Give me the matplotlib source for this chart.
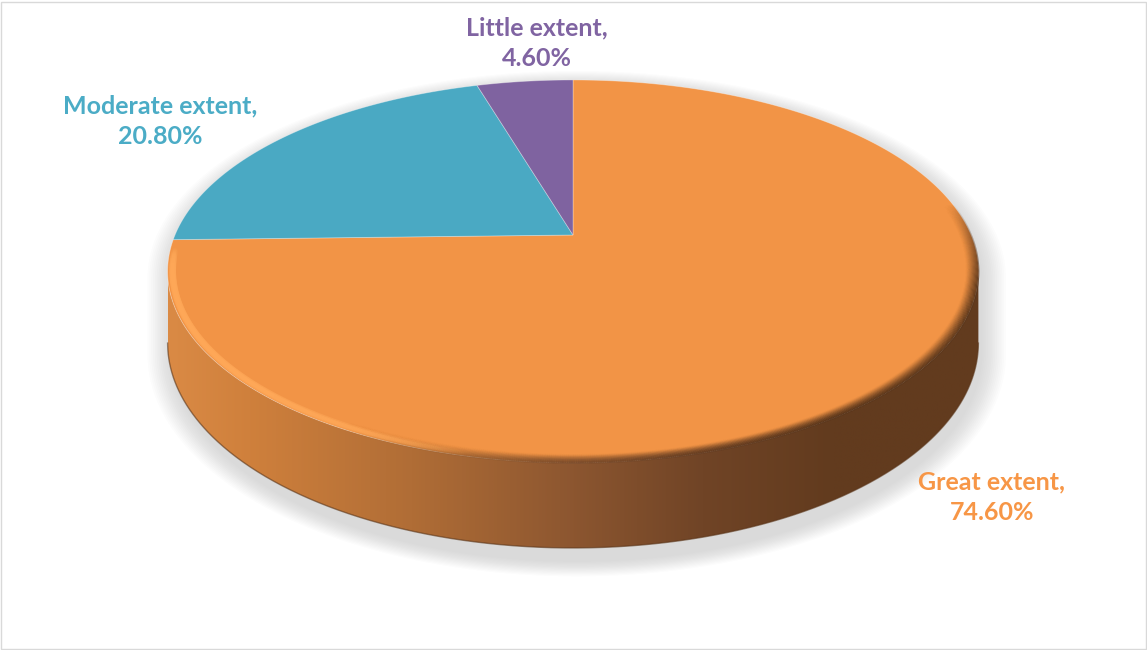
import numpy as np
import matplotlib
matplotlib.use("Agg")
import matplotlib.pyplot as plt
from matplotlib.patches import Polygon, Rectangle
from matplotlib.collections import LineCollection
from matplotlib.colors import LinearSegmentedColormap, to_rgb

# ---- data ----
categories = ["Great extent", "Moderate extent", "Little extent"]
shares = [74.60, 20.80, 4.60]
slice_colors = ["#F29446", "#4AA9C3", "#7F63A0"]
label_colors = ["#F79646", "#4BACC6", "#8064A2"]
label_pos = [(992, 497), (160, 121), (537, 43)]

# ---- geometry of the tilted disc (pixel space) ----
CX, CY = 573, 235      # centre of the disc's top face
RX, RY = 398, 184.5    # half-width / half-depth at the centre line
PERSP = 0.19           # perspective foreshortening
DEPTH = 69             # thickness of the disc

W, H = 1147, 650
fig = plt.figure(figsize=(W / 100, H / 100), dpi=100)
ax = fig.add_axes([0, 0, 1, 1])
ax.set_xlim(0, W)
ax.set_ylim(H, 0)
ax.axis("off")


def project(X, Z, drop=0.0):
    k = 1 + PERSP * Z
    return CX + RX * X / k, CY - RY * Z / k + drop / k


def ring(phi, r=1.0, drop=0.0):
    return project(r * np.sin(phi), r * np.cos(phi), drop)


phi = np.linspace(0, 2 * np.pi, 1441)
tx, ty = ring(phi)
bx, by = ring(phi, drop=DEPTH)
half = len(phi) // 2
iR = int(np.argmax(tx[:half]))
iL = half + int(np.argmin(tx[half:]))
x_left, x_right = tx[iL], tx[iR]

# silhouette of the whole disc (for the drop shadow)
sil_x = np.concatenate([tx[iL:], tx[:iR + 1], bx[iR:iL + 1]])
sil_y = np.concatenate([ty[iL:], ty[:iR + 1], by[iR:iL + 1]])
sil = np.column_stack([sil_x, sil_y])
sc = np.array([CX + 5, CY + 70])
for i in range(14):
    s = 1.0 + 0.0045 * i
    pts = (sil - sc) * np.array([s, s * 1.02]) + sc + np.array([4, 9])
    ax.add_patch(Polygon(pts, closed=True, facecolor="#7f7f7f",
                         edgecolor="none", alpha=0.02, zorder=1))

# front wall with a horizontal light-to-dark gradient
side = np.column_stack([np.concatenate([tx[iR:iL + 1], bx[iR:iL + 1][::-1]]),
                        np.concatenate([ty[iR:iL + 1], by[iR:iL + 1][::-1]])])
side_patch = Polygon(side, closed=True, facecolor="none", edgecolor="none",
                     zorder=2)
ax.add_patch(side_patch)
wall_stops = [(0.0, "#DA8A45"), (0.1, "#CF803C"), (0.3, "#B06D36"),
              (0.5, "#8C5630"), (0.66, "#704426"), (0.82, "#623B1E"),
              (1.0, "#623B1E")]
wall_cmap = LinearSegmentedColormap.from_list("wall", wall_stops)
grad = np.linspace(0, 1, 512)[None, :]
img = ax.imshow(grad, cmap=wall_cmap, aspect="auto", zorder=2,
                extent=(x_left, x_right, by.max() + 5, ty[iR] - 5),
                interpolation="bilinear")
img.set_clip_path(side_patch)
ax.plot(bx[iR:iL + 1], by[iR:iL + 1], color="#5a3519", lw=1.0, alpha=0.6,
        zorder=3)

# top face slices, clockwise from 12 o'clock
bounds = np.concatenate([[0], np.cumsum(shares)]) / sum(shares) * 2 * np.pi
for a0, a1, col in zip(bounds[:-1], bounds[1:], slice_colors):
    p = np.linspace(a0, a1, 400)
    x, y = ring(p)
    poly = np.column_stack([np.concatenate([[CX], x]),
                            np.concatenate([[CY], y])])
    ax.add_patch(Polygon(poly, closed=True, facecolor=col,
                         edgecolor=(1, 1, 1, 0.35), lw=0.6, zorder=4))

# soft bevel on the front rim: shaded where it meets the dark wall
p = np.linspace(np.radians(80), np.radians(262), 700)
for k, r in enumerate(np.linspace(1.0, 0.972, 12)):
    rx_, ry_ = ring(p, r=r)
    t = np.clip((rx_ - x_left) / (x_right - x_left), 0, 1)
    wall = np.array(wall_cmap(t))[:, :3] * 0.9
    strength = (1 - k / 12) ** 1.4
    # fade out towards the left, where the rim is lit instead
    fade = np.clip((t - 0.22) / 0.25, 0, 1)
    # and towards the upper right end of the arc
    fade *= np.clip((p - np.radians(80)) / np.radians(25), 0, 1)
    rgba = np.column_stack([wall, 0.85 * strength * fade])
    segs = np.stack([np.column_stack([rx_[:-1], ry_[:-1]]),
                     np.column_stack([rx_[1:], ry_[1:]])], axis=1)
    ax.add_collection(LineCollection(segs, colors=rgba[:-1], linewidths=1.4,
                                     zorder=5))

# lit rim on the front left
p = np.linspace(np.radians(150), np.radians(268), 500)
rx_, ry_ = ring(p, r=0.988)
t = np.clip((rx_ - x_left) / (x_right - x_left), 0, 1)
alpha = np.clip(1 - (t - 0.08) / 0.3, 0, 1)
alpha *= np.clip((np.radians(266) - p) / np.radians(6), 0, 1)
segs = np.stack([np.column_stack([rx_[:-1], ry_[:-1]]),
                 np.column_stack([rx_[1:], ry_[1:]])], axis=1)
for lw, al in [(5.0, 0.35), (3.0, 0.6)]:
    rgba = np.column_stack([np.tile(to_rgb("#FFA858"), (len(p), 1)),
                            al * alpha])
    ax.add_collection(LineCollection(segs, colors=rgba[:-1], linewidths=lw,
                                     capstyle="round", zorder=6))

# labels
for name, val, col, (lx, ly) in zip(categories, shares, label_colors,
                                    label_pos):
    ax.text(lx, ly, f"{name},\n{val:.2f}%", color=col, ha="center",
            va="center", fontsize=18, fontweight="bold", family="Lato",
            linespacing=1.38, zorder=7)

# chart border
fig.add_artist(Rectangle((0.5 / W, 1.5 / H), (W - 2) / W, (H - 3) / H,
                         transform=fig.transFigure, fill=False,
                         edgecolor="#D9D9D9", lw=1.0))

fig.savefig("out.png", dpi=100, facecolor="white")
